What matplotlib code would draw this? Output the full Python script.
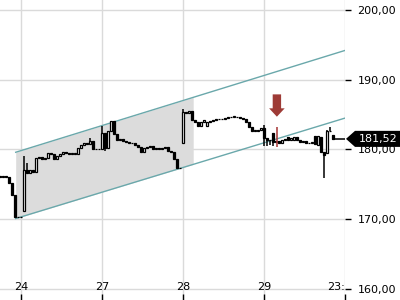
import numpy as np
import matplotlib.pyplot as plt
from matplotlib.patches import Polygon

# bar index: 27 bars per trading day, day starts at 0, 27, 54, 81, 108
bars = list(range(-7, 105))
opens = [176.2, 176.0, 176.2, 176.0, 175.2, 173.5, 170.3,
         170.3, 171.2, 177.1, 176.6, 177.0, 176.8, 178.8, 178.9, 178.7, 178.8,
         179.5, 179.4, 178.6, 179.0, 179.3, 179.6, 179.5, 179.4, 179.4, 179.4,
         180.2, 180.6, 181.0, 180.8, 181.2, 180.1, 180.0,
         180.0, 182.4, 180.2, 182.6, 184.1, 182.2, 181.3, 181.5, 181.2, 181.1,
         181.0, 180.9, 180.7, 180.3, 179.7, 180.2, 180.3, 180.5, 180.1, 180.2,
         180.0, 180.2, 180.3, 179.8, 179.6, 178.6, 177.3,
         181.0, 185.4, 185.2, 185.5, 184.2, 184.0, 183.4, 184.0, 183.4, 183.9,
         184.1, 184.2, 184.3, 184.3, 184.4, 184.5, 184.6, 184.7, 184.7, 184.6,
         184.5, 184.3, 184.0, 183.2, 182.7, 182.7, 182.8,
         183.1, 181.7, 181.3, 182.4, 181.1, 181.2, 181.0, 181.3, 181.8, 181.4,
         181.3, 181.8, 181.4, 181.1, 181.2, 180.9, 181.0, 181.9, 180.6, 181.8,
         179.6, 179.5, 182.6, 182.1]
closes = [176.0, 176.2, 176.0, 175.2, 173.5, 170.3, 170.3,
          170.3, 177.1, 176.6, 177.0, 176.8, 178.8, 178.9, 178.7, 178.8, 179.5,
          179.4, 178.6, 179.0, 179.3, 179.6, 179.5, 179.4, 179.4, 179.4, 180.2,
          180.6, 181.0, 180.8, 181.2, 180.1, 180.0, 180.0,
          182.4, 180.2, 182.6, 184.1, 182.2, 181.3, 181.5, 181.2, 181.1, 181.0,
          180.9, 180.7, 180.3, 179.7, 180.2, 180.3, 180.5, 180.1, 180.2, 180.0,
          180.2, 180.3, 179.8, 179.6, 178.6, 177.3, 177.3,
          185.4, 185.2, 185.5, 184.2, 184.0, 183.4, 184.0, 184.2, 183.9, 184.1,
          184.2, 184.3, 184.3, 184.4, 184.5, 184.6, 184.7, 184.7, 184.6, 184.5,
          184.3, 184.0, 183.2, 182.7, 182.7, 182.8, 183.1,
          181.7, 181.3, 181.4, 181.1, 181.2, 181.0, 181.3, 181.5, 181.4, 181.6,
          181.8, 181.4, 181.1, 181.2, 180.9, 181.0, 181.0, 180.8, 182.0, 179.6,
          179.2, 182.6, 182.6, 181.52]
wick_high = {1: 179.0, 2: 178.1, 23: 181.6, 27: 183.4, 54: 185.8, 81: 183.5,
             102: 182.8, 103: 183.2}
wick_low = {28: 179.8, 81: 180.5, 82: 180.5, 83: 180.6, 84: 180.5, 101: 175.9}

day_ticks = [0, 27, 54, 81, 108]
day_labels = ["24", "27", "28", "29", "23:"]
price_ticks = [160, 170, 180, 190, 200]

# trend channel
chan_x = [-1.77, 108]
chan_upper = [179.6, 194.2]
chan_lower = [170.1, 184.5]
shade_end = 57.4

event_bar = 85.3
last_price = closes[-1]

fig = plt.figure(figsize=(4, 3), dpi=100)
ax = fig.add_axes([0, 0, 345 / 400, 1])
ax.set_xlim(-7, 108)
ax.set_ylim(158.42, 201.43)

grid_c = "#dadada"
for t in day_ticks:
    ax.axvline(t, color=grid_c, lw=1, zorder=0)
for p in price_ticks:
    ax.axhline(p, color=grid_c, lw=1, zorder=0)

# channel + shaded part
slope_u = (chan_upper[1] - chan_upper[0]) / (chan_x[1] - chan_x[0])
slope_l = (chan_lower[1] - chan_lower[0]) / (chan_x[1] - chan_x[0])
sx = np.array([chan_x[0], shade_end])
ax.fill_between(sx, chan_lower[0] + slope_l * (sx - chan_x[0]),
                chan_upper[0] + slope_u * (sx - chan_x[0]),
                color="#dcdcdc", lw=0, zorder=1)
ax.plot(chan_x, chan_upper, color="#6aa8ab", lw=1, zorder=2)
ax.plot(chan_x, chan_lower, color="#6aa8ab", lw=1, zorder=2)

# candles
for i, b in enumerate(bars):
    o, c = opens[i], closes[i]
    hi = wick_high.get(b, max(o, c))
    lo = wick_low.get(b, min(o, c))
    ax.vlines(b, lo, hi, color="black", lw=1.1, zorder=3)
    up = c >= o
    ax.bar(b, max(abs(c - o), 0.08), bottom=min(o, c), width=0.9,
           facecolor="white" if up else "black", edgecolor="black",
           lw=0.9, zorder=4)

# last price line + tag
ax.plot([bars[-1], 108], [last_price, last_price], color="black", lw=1.1, zorder=4)
tr = ax.get_yaxis_transform()
tag = Polygon([(1.0 + 1 / 345, last_price), (1.0 + 10 / 345, last_price + 1.15),
               (1.0 + 55 / 345, last_price + 1.15), (1.0 + 55 / 345, last_price - 1.15),
               (1.0 + 10 / 345, last_price - 1.15)],
              closed=True, transform=tr, facecolor="black", edgecolor="none",
              clip_on=False, zorder=10)
ax.add_patch(tag)
ax.text(1.0 + 33 / 345, last_price, f"{last_price:.2f}".replace(".", ","),
        transform=tr, color="white", fontsize=8, ha="center", va="center",
        clip_on=False, zorder=11)

# event arrow and marker
arr = Polygon([(event_bar - 1.4, 187.9), (event_bar + 1.4, 187.9),
               (event_bar + 1.4, 185.9), (event_bar + 2.6, 185.9),
               (event_bar, 184.7), (event_bar - 2.6, 185.9),
               (event_bar - 1.4, 185.9)],
              closed=True, facecolor="#9e3b36", edgecolor="none", zorder=6)
ax.add_patch(arr)
ax.bar(event_bar, 2.8, bottom=180.4, width=0.8, color="#a83c3c",
       alpha=0.8, lw=0, zorder=6)

for s in ax.spines.values():
    s.set_visible(False)

ax.yaxis.tick_right()
ax.set_yticks(price_ticks)
ax.set_yticklabels([f"{p:.2f}".replace(".", ",") for p in price_ticks])
ax.tick_params(axis="y", direction="out", length=4, width=1, pad=5,
               labelsize=8, colors="black")
ax.set_xticks(day_ticks)
ax.set_xticklabels(day_labels)
ax.tick_params(axis="x", direction="in", length=4, width=1, pad=-13,
               labelsize=8, colors="black")
ax.get_xticklabels()[-1].set_ha("right")

fig.savefig("out.png", dpi=100)
